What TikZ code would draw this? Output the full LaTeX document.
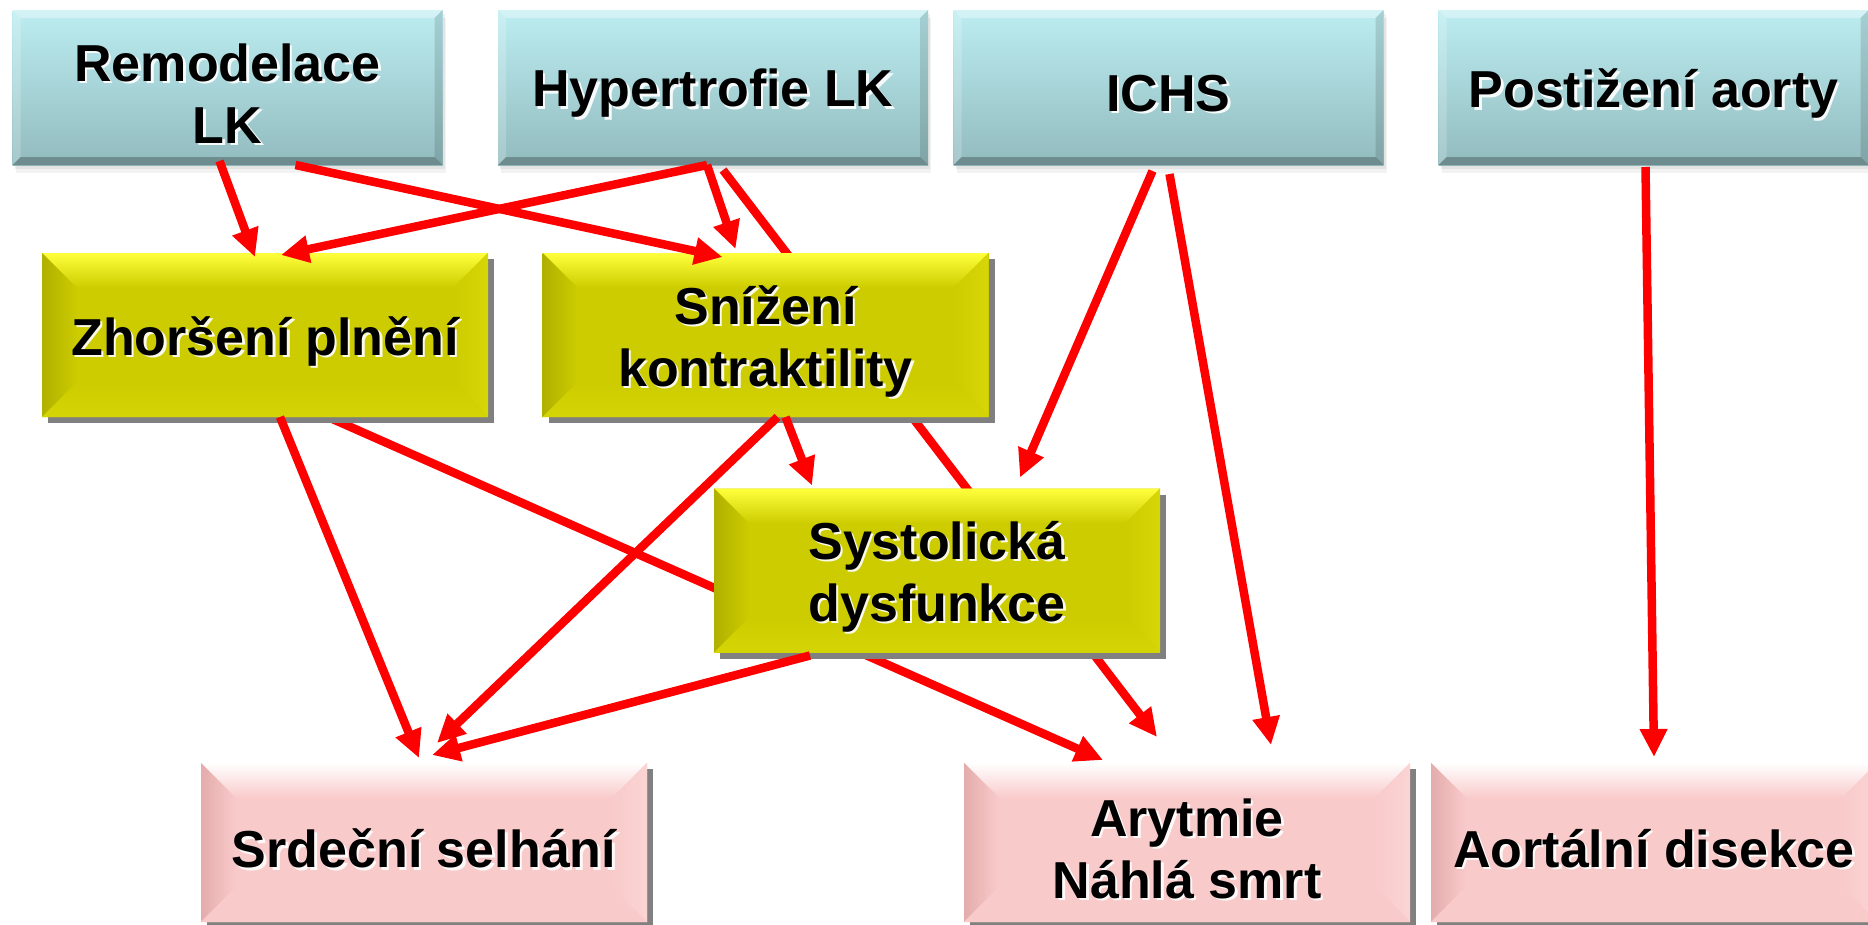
\documentclass[tikz,border=0pt]{standalone}
\usepackage{fontspec}
\setmainfont{Liberation Sans}
\usetikzlibrary{arrows.meta,shadows,calc}
\pgfdeclarelayer{bottom}
\pgfdeclarelayer{background}
\pgfsetlayers{bottom,background,main}

\definecolor{ymain}{RGB}{204,204,0}
\definecolor{ytop}{RGB}{255,255,60}
\definecolor{yleft}{RGB}{176,176,0}
\definecolor{yright}{RGB}{214,214,8}
\definecolor{ybot}{RGB}{212,212,6}
\definecolor{cmtop}{RGB}{188,237,241}
\definecolor{cmbot}{RGB}{146,187,190}
\definecolor{pmain}{RGB}{249,202,202}
\definecolor{pleft}{RGB}{228,172,172}
\definecolor{pright}{RGB}{251,212,212}
\definecolor{shgray}{RGB}{128,128,128}

\newcommand{\mybevcoords}[1]{%
  \coordinate (qNW) at (path picture bounding box.north west);
  \coordinate (qNE) at (path picture bounding box.north east);
  \coordinate (qSW) at (path picture bounding box.south west);
  \coordinate (qSE) at (path picture bounding box.south east);
  \coordinate (iNW) at ([shift={(#1,-#1)}]qNW);
  \coordinate (iNE) at ([shift={(-#1,-#1)}]qNE);
  \coordinate (iSW) at ([shift={(#1,#1)}]qSW);
  \coordinate (iSE) at ([shift={(-#1,#1)}]qSE);
}
\newcommand{\mybevel}[6]{%
  \mybevcoords{#1}
  \fill[top color=#3, bottom color=#2] (qNW) -- (qNE) -- (iNE) -- (iNW) -- cycle;
  \fill[left color=#4, right color=#2] (qNW) -- (iNW) -- (iSW) -- (qSW) -- cycle;
  \fill[left color=#2, right color=#5] (qNE) -- (qSE) -- (iSE) -- (iNE) -- cycle;
  \fill[top color=#2, bottom color=#6] (qSW) -- (iSW) -- (iSE) -- (qSE) -- cycle;
}
\newcommand{\mythinbevel}[1]{%
  \mybevcoords{#1}
  \fill[white,opacity=0.35] (qNW) -- (qNE) -- (iNE) -- (iNW) -- cycle;
  \fill[white,opacity=0.2] (qNW) -- (iNW) -- (iSW) -- (qSW) -- cycle;
  \fill[black,opacity=0.12] (qNE) -- (qSE) -- (iSE) -- (iNE) -- cycle;
  \fill[black,opacity=0.25] (qSW) -- (iSW) -- (iSE) -- (qSE) -- cycle;
}

\tikzset{
  lbl/.style={font=\fontsize{52}{62}\selectfont\bfseries, align=center, text=black, inner sep=0pt},
  glow/.style={lbl, text=white, opacity=0.9, draw=none, fill=none},
  arr/.style={draw=red, line width=8.5pt, -{Triangle[length=28pt,width=26pt]}},
  tbox/.style={rectangle, inner sep=0pt, outer sep=0pt,
    minimum width=430pt, minimum height=155pt, top color=cmtop, bottom color=cmbot,
    drop shadow={opacity=0.12, shadow xshift=2pt, shadow yshift=-4pt},
    drop shadow={opacity=0.10, shadow xshift=3pt, shadow yshift=-8pt},
    path picture={\mythinbevel{8pt}
      \node[glow] at ([shift={(2.5pt,-8.5pt)}]path picture bounding box.center) {#1};}},
  ybox/.style={rectangle, inner sep=0pt, outer sep=0pt,
    minimum width=446pt, minimum height=164pt, fill=ymain,
    general shadow={fill=shgray, shadow xshift=6pt, shadow yshift=-6pt},
    path picture={\mybevel{35pt}{ymain}{ytop}{yleft}{yright}{ybot}
      \node[glow] at ([shift={(2.5pt,-8.5pt)}]path picture bounding box.center) {#1};}},
  pbox/.style={rectangle, inner sep=0pt, outer sep=0pt,
    minimum width=446pt, minimum height=159pt, fill=pmain,
    general shadow={fill=shgray, shadow xshift=6pt, shadow yshift=-6pt},
    path picture={\mybevel{35pt}{pmain}{white}{pleft}{pright}{pmain}
      \node[glow] at ([shift={(2.5pt,-8.5pt)}]path picture bounding box.center) {#1};}},
  txt/.style={lbl, yshift=-6pt},
}

\begin{document}
\begin{tikzpicture}[x=1pt,y=-1pt]
\useasboundingbox (0,0) rectangle (1868,924);
\begin{pgfonlayer}{bottom}
\fill[white] (0,0) rectangle (1868,924);
\end{pgfonlayer}
\clip (0,0) rectangle (1868,924);

% top row
\node[tbox={Remodelace\\LK}] (remod) at (227.5,87.5) {};
\node[txt] (remod-t) at (remod.center) {Remodelace\\LK};
\node[tbox={Hypertrofie LK}] (hyper) at (713,87.5) {};
\node[txt] (hyper-t) at (hyper.center) {Hypertrofie LK};
\node[tbox={ICHS}] (ichs) at (1168.5,87.5) {};
\node[txt] (ichs-t) at (ichs.center) {ICHS};
\node[tbox={Postižení aorty}] (aorta) at (1653.5,87.5) {};
\node[txt] (aorta-t) at (aorta.center) {Postižení aorty};

% middle
\node[ybox={Zhoršení plnění}] (zhor) at (265,335) {};
\node[txt] (zhor-t) at (zhor.center) {Zhoršení plnění};
\node[ybox={Snížení\\kontraktility}] (sniz) at (765.5,335) {};
\node[txt] (sniz-t) at (sniz.center) {Snížení\\kontraktility};
\node[ybox={Systolická\\dysfunkce}] (syst) at (937,570.5) {};
\node[txt] (syst-t) at (syst.center) {Systolická\\dysfunkce};

% bottom
\node[pbox={Srdeční selhání}] (srd) at (424,842.5) {};
\node[txt] (srd-t) at (srd.center) {Srdeční selhání};
\node[pbox={Arytmie\\Náhlá smrt}] (aryt) at (1187,842.5) {};
\node[txt] (aryt-t) at (aryt.center) {Arytmie\\Náhlá smrt};
\node[pbox={Aortální disekce}] (aort) at (1654,842.5) {};
\node[txt] (aort-t) at (aort.center) {Aortální disekce};

% connectors passing behind boxes
\begin{pgfonlayer}{background}
\draw[arr] ([xshift=10pt,yshift=-5pt]hyper.south) -- ([xshift=-30pt,yshift=26pt]aryt.north);
\draw[arr] ([xshift=63pt]zhor.south) -- ([xshift=-84pt,yshift=3pt]aryt.north);
\end{pgfonlayer}

% connectors
\draw[arr] ([xshift=-8pt,yshift=4pt]remod.south) -- ([xshift=-10pt,yshift=-4pt]zhor.north);
\draw[arr] ([xshift=68pt]remod.south) -- ([xshift=-43pt,yshift=-4pt]sniz.north);
\draw[arr] ([xshift=-6pt]hyper.south) -- ([xshift=16pt,yshift=-2pt]zhor.north);
\draw[arr] ([xshift=-6pt]hyper.south) -- ([xshift=-30pt,yshift=4pt]sniz.north);
\draw[arr] ([xshift=-16pt,yshift=-6pt]ichs.south) -- ([xshift=83pt,yshift=11pt]syst.north);
\draw[arr] ([xshift=1pt,yshift=-9pt]ichs.south) -- ([xshift=84pt,yshift=18pt]aryt.north);
\draw[arr] ([xshift=-8pt,yshift=-2pt]aorta.south) -- ([yshift=6pt]aort.north);
\draw[arr] ([xshift=15pt]zhor.south) -- ([xshift=-5pt,yshift=5pt]srd.north);
\draw[arr] ([xshift=12pt]sniz.south) -- ([xshift=13pt,yshift=20pt]srd.north);
\draw[arr] ([xshift=20pt]sniz.south) -- ([xshift=-125pt,yshift=3pt]syst.north);
\draw[arr] ([xshift=-127pt,yshift=-3pt]syst.south) -- ([xshift=8pt,yshift=8pt]srd.north);
\end{tikzpicture}
\end{document}
